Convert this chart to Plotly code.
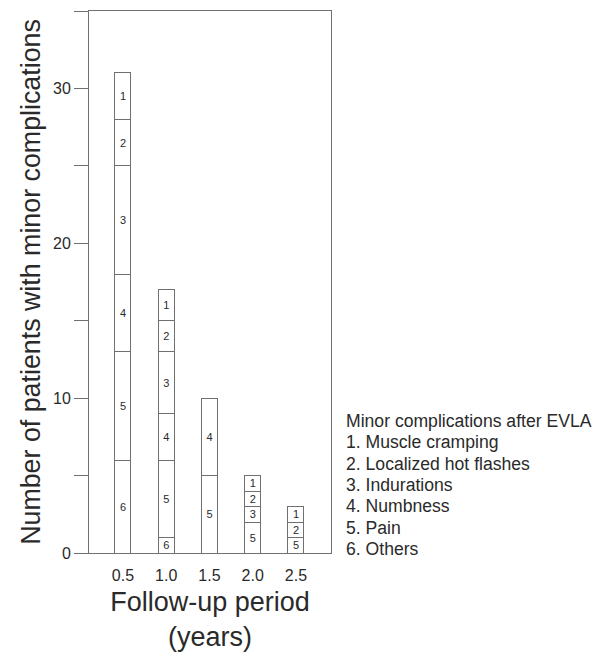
import plotly.graph_objects as go

periods = [0.5, 1.0, 1.5, 2.0, 2.5]
period_labels = ["0.5", "1.0", "1.5", "2.0", "2.5"]

# stacked from bottom: 6, 5, 4, 3, 2, 1
cat6 = [6, 1, None, None, None]
cat5 = [7, 5, 5, 2, 1]
cat4 = [5, 3, 5, None, None]
cat3 = [7, 4, None, 1, None]
cat2 = [3, 2, None, 1, 1]
cat1 = [3, 2, None, 1, 1]

series = [("6", cat6), ("5", cat5), ("4", cat4), ("3", cat3), ("2", cat2), ("1", cat1)]

legend_title = "Minor complications after EVLA"
legend_items = ["1. Muscle cramping", "2. Localized hot flashes", "3. Indurations",
                "4. Numbness", "5. Pain", "6. Others"]

FONT = "Liberation Sans, Arial, Helvetica, sans-serif"
LINE = "#707070"
TXT = "#2a2a2a"

fig = go.Figure()
for name, vals in series:
    fig.add_trace(go.Bar(
        x=periods, y=vals, name=name,
        width=0.185,
        marker=dict(color="white", line=dict(color=LINE, width=1)),
        text=[name if v else None for v in vals],
        textposition="inside", insidetextanchor="middle", textangle=0,
        constraintext="none",
        textfont=dict(size=11, color=TXT, family=FONT),
        showlegend=False, hoverinfo="skip",
    ))

fig.update_layout(
    barmode="stack",
    width=596, height=652,
    margin=dict(l=89, r=265, t=11, b=99, autoexpand=False),
    paper_bgcolor="white", plot_bgcolor="white",
    font=dict(family=FONT, color=TXT),
)

fig.update_xaxes(
    range=[0.107, 2.905],
    tickvals=periods, ticktext=period_labels,
    showline=True, linecolor=LINE, linewidth=1, mirror=True,
    ticks="", showgrid=False, zeroline=False,
    tickfont=dict(size=16, color=TXT),
    ticklabelstandoff=8,
    title=dict(text="Follow-up period<br>(years)", font=dict(size=27, color=TXT), standoff=23),
)

fig.update_yaxes(
    range=[0, 35],
    tickvals=[0, 5, 10, 15, 20, 25, 30, 35],
    ticktext=["0", "", "10", "", "20", "", "30", ""],
    ticks="outside", ticklen=14, tickcolor=LINE, tickwidth=1,
    showline=True, linecolor=LINE, linewidth=1, mirror=True,
    showgrid=False, zeroline=False,
    tickfont=dict(size=16, color=TXT),
    title=dict(text="Number of patients with minor complications", font=dict(size=26.8, color=TXT), standoff=4),
)

lines = [legend_title] + legend_items
y0 = 421
for i, t in enumerate(lines):
    ypix = y0 + i * 21.3
    fig.add_annotation(
        xref="paper", yref="paper",
        x=(344 - 89) / (331 - 89), y=(553 - ypix) / (553 - 11),
        xanchor="left", yanchor="middle",
        text=t, showarrow=False,
        font=dict(size=17.6, color=TXT, family=FONT),
    )

fig.write_html("out.html", config={"displayModeBar": False},
               post_script="document.body.style.margin='0';")
